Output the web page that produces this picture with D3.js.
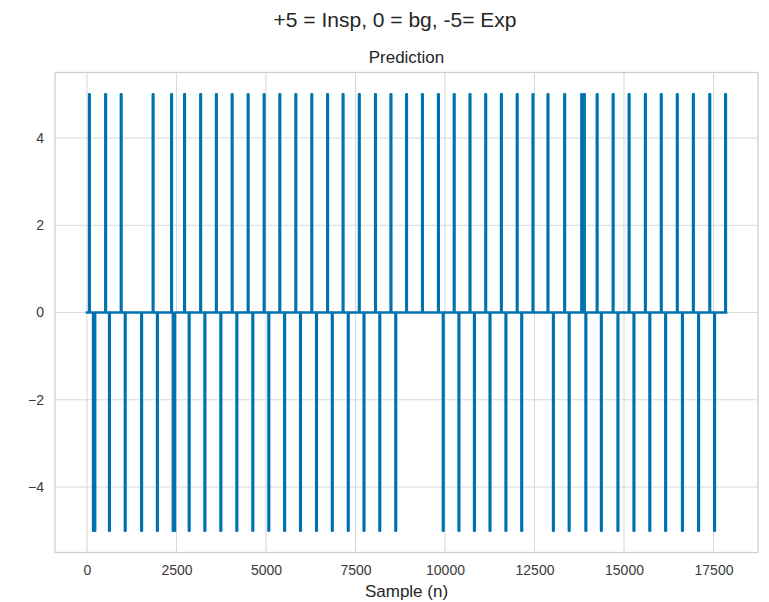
<!DOCTYPE html>
<html>
<head>
<meta charset="utf-8">
<script src="https://cdn.jsdelivr.net/npm/d3@7"></script>
<style>
  html, body { margin: 0; padding: 0; background: #ffffff; }
  svg { display: block; font-family: "Liberation Sans", Arial, sans-serif; }
</style>
</head>
<body>
<svg id="chart" width="769" height="602"></svg>
<script>
// Predicted respiratory phase per sample: +5 inspiration, 0 background, -5 expiration.
// Onsets (sample index) and lengths (samples) of each predicted phase.
const inspStart = [61, 514, 949, 1840, 2356, 2719, 3168, 3607, 4048, 4494, 4941, 5379,
  5826, 6272, 6714, 7146, 7599, 8051, 8483, 8919, 9363, 9809, 10250, 10691, 11130,
  11568, 12009, 12450, 12869, 13335, 13810, 13885, 14242, 14689, 15135, 15590, 16034,
  16481, 16930, 17388, 17829];
const inspLen = [15, 15, 15, 15, 15, 15, 15, 15, 15, 15, 15, 15,
  15, 15, 15, 15, 15, 15, 15, 15, 15, 15, 15, 15, 15,
  15, 15, 15, 15, 15, 15, 15, 15, 15, 15, 15, 15,
  15, 15, 15, 15];
const expStart = [173, 620, 1061, 1519, 1960, 2401, 2847, 3286, 3732, 4179, 4625, 5072,
  5513, 5957, 6404, 6845, 7291, 7730, 8171, 8617, 9943, 10382, 10814, 11250, 11694,
  12135, 13020, 13461, 13927, 14360, 14823, 15270, 15713, 16155, 16624, 17076, 17522];
const expLen = [55, 15, 15, 15, 15, 55, 15, 15, 15, 15, 15, 15,
  15, 15, 15, 15, 15, 15, 15, 15, 15, 15, 15, 15, 15,
  15, 15, 15, 15, 15, 15, 15, 15, 15, 15, 15, 15];
const inspLevel = 5;
const expLevel = -5;
const lastSample = 17850;

const xTicks = [0, 2500, 5000, 7500, 10000, 12500, 15000, 17500];
const yTicks = [-4, -2, 0, 2, 4];

const suptitle = "+5 = Insp, 0 = bg, -5= Exp";
const axTitle = "Prediction";
const xLabel = "Sample (n)";

// Build the step signal as change points
const events = inspStart.map((s, i) => ({ s, len: inspLen[i], level: inspLevel }))
  .concat(expStart.map((s, i) => ({ s, len: expLen[i], level: expLevel })))
  .sort((a, b) => a.s - b.s);
const points = [[0, 0]];
events.forEach(e => {
  points.push([e.s, e.level]);
  points.push([e.s + e.len, 0]);
});
points.push([lastSample, 0]);

const svg = d3.select("#chart");
const plot = { left: 55, right: 758, top: 72.5, bottom: 552.5 };

const pad = 0.05 * lastSample;
const x = d3.scaleLinear().domain([-pad, lastSample + pad]).range([plot.left, plot.right]);
const y = d3.scaleLinear().domain([-5.5, 5.5]).range([plot.bottom, plot.top]);

const gridColor = "#dadada";

// grid lines
svg.append("g").selectAll("line.vx").data(xTicks).join("line")
  .attr("x1", d => x(d)).attr("x2", d => x(d))
  .attr("y1", plot.top).attr("y2", plot.bottom)
  .attr("stroke", gridColor).attr("stroke-width", 1.1);
svg.append("g").selectAll("line.hy").data(yTicks).join("line")
  .attr("x1", plot.left).attr("x2", plot.right)
  .attr("y1", d => y(d)).attr("y2", d => y(d))
  .attr("stroke", gridColor).attr("stroke-width", 1.1);

// axes (labels only, no tick marks)
const fmtMinus = v => String(v).replace("-", "\u2212");
const xAxis = d3.axisBottom(x).tickValues(xTicks).tickSize(0).tickPadding(13).tickFormat(d => fmtMinus(d));
const yAxis = d3.axisLeft(y).tickValues(yTicks).tickSize(0).tickPadding(11).tickFormat(d => fmtMinus(d));
const gx = svg.append("g").attr("transform", `translate(0,${plot.bottom})`).call(xAxis);
const gy = svg.append("g").attr("transform", `translate(${plot.left},0)`).call(yAxis);
[gx, gy].forEach(g => {
  g.select(".domain").remove();
  g.selectAll("text").attr("fill", "#3a3a3a").style("font-size", "14px")
    .style("font-family", "'Liberation Sans', Arial, sans-serif");
});

// frame
svg.append("rect")
  .attr("x", plot.left).attr("y", plot.top)
  .attr("width", plot.right - plot.left).attr("height", plot.bottom - plot.top)
  .attr("fill", "none").attr("stroke", "#cfcfcf").attr("stroke-width", 1.3);

// signal
const line = d3.line().x(d => x(d[0])).y(d => y(d[1])).curve(d3.curveStepAfter);
svg.append("path")
  .datum(points)
  .attr("d", line)
  .attr("fill", "none")
  .attr("stroke", "#0072b2")
  .attr("stroke-width", 2.6)
  .attr("stroke-linejoin", "round")
  .attr("stroke-linecap", "square");

// titles
svg.append("text").attr("x", 395).attr("y", 27).attr("text-anchor", "middle")
  .style("font-size", "21px").attr("fill", "#262626").text(suptitle);
svg.append("text").attr("x", (plot.left + plot.right) / 2).attr("y", 63).attr("text-anchor", "middle")
  .style("font-size", "17px").attr("fill", "#262626").text(axTitle);
svg.append("text").attr("x", (plot.left + plot.right) / 2).attr("y", 597).attr("text-anchor", "middle")
  .style("font-size", "17px").attr("fill", "#262626").text(xLabel);
</script>
</body>
</html>
